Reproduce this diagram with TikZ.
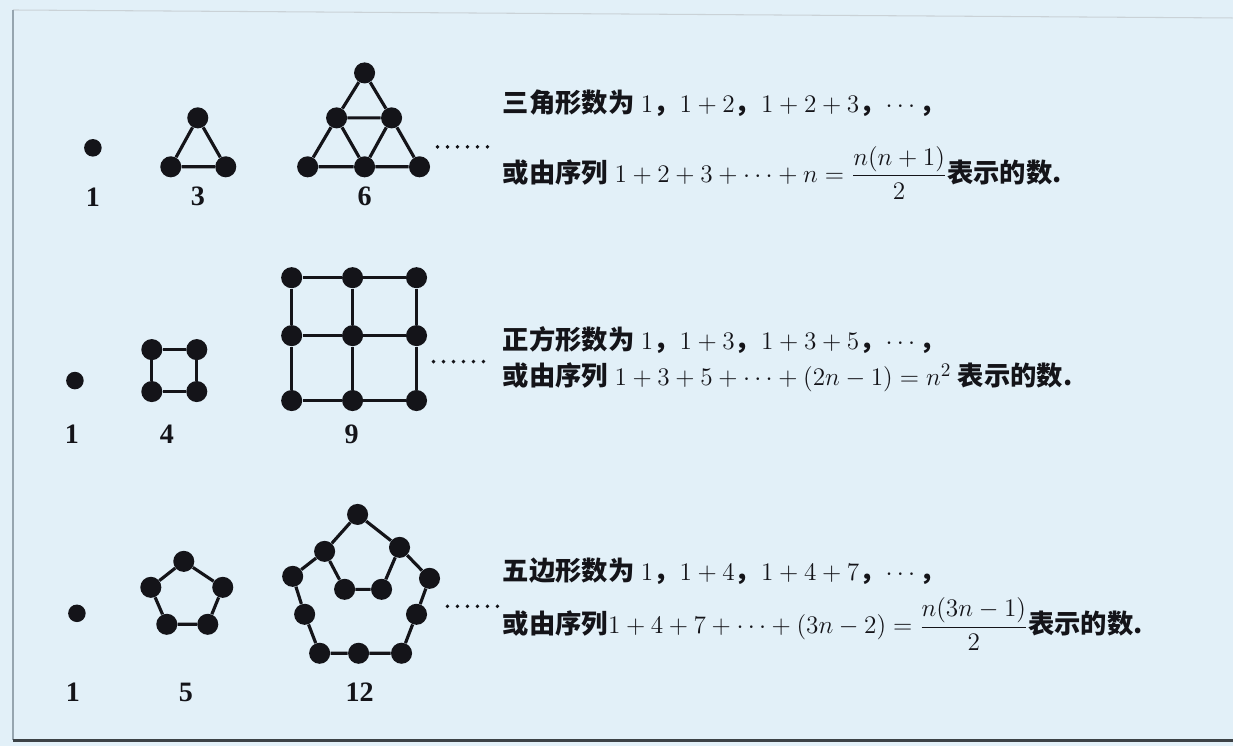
\documentclass[tikz,border=0pt]{standalone}
\usepackage{amsmath}
\usepackage{fontspec}
\setmainfont{Liberation Serif}
\newfontfamily\cjk{Noto Sans CJK SC}
\usetikzlibrary{positioning}
\definecolor{PaperBlue}{RGB}{226,240,248}
\definecolor{FrameGray}{RGB}{150,165,175}
\definecolor{InkBlack}{RGB}{20,20,25}
\newcommand{\zh}[1]{{\cjk\bfseries #1}}
\tikzset{
  dot/.style={circle,fill=InkBlack,inner sep=0pt,minimum size=12pt},
  smalldot/.style={dot,minimum size=10pt},
  edge/.style={line width=1.8pt,InkBlack},
  numlabel/.style={font=\fontsize{16}{18}\selectfont\bfseries,text=InkBlack},
  say/.style={anchor=west,inner sep=0pt,text=InkBlack,
    font=\fontsize{15}{18}\selectfont}
}

\begin{document}
\begin{tikzpicture}[x=0.02cm,y=-0.02cm]
  \fill[PaperBlue] (0,0) rectangle (1234,747);
  \draw[FrameGray!50,line width=0.6pt] (13,10) -- (1234,18);
  \draw[FrameGray,line width=1pt] (13,10) -- (13,741);
  \draw[FrameGray!40!black,line width=1.6pt] (13,741) -- (1234,741);
  % triangular numbers
  \node[smalldot] (t1) at (93,148) {};
  \foreach \n/\x/\y in {a/198/118,b/171/167,c/226/167}
    \node[dot] (t3\n) at (\x,\y) {};
  \draw[edge] (t3a) -- (t3b) -- (t3c) -- (t3a);
  \foreach \n/\x/\y in {a/365/73,b/337/118,c/392/118,d/308/167,e/365/167,f/420/167}
    \node[dot] (t6\n) at (\x,\y) {};
  \draw[edge] (t6a) -- (t6b) -- (t6d) -- (t6e) -- (t6f) -- (t6c) -- (t6a);
  \draw[edge] (t6b) -- (t6c) -- (t6e) -- (t6b);
  \node[numlabel] (lt1) at (93,197) {1};
  \node[numlabel] (lt3) at (198,197) {3};
  \node[numlabel] (lt6) at (365,197) {6};
  % square numbers
  \node[smalldot] (s1) at (75,381) {};
  \foreach \n/\x/\y in {a/152/350,b/197/350,c/197/392,d/152/392}
    \node[dot] (s4\n) at (\x,\y) {};
  \draw[edge] (s4a) -- (s4b) -- (s4c) -- (s4d) -- (s4a);
  \foreach \c/\x in {1/292,2/353,3/417}
    \foreach \r/\y in {1/278,2/336,3/401}
      \node[dot] (s9-\c\r) at (\x,\y) {};
  \foreach \k in {1,2,3}{
    \draw[edge] (s9-1\k) -- (s9-2\k) -- (s9-3\k);
    \draw[edge] (s9-\k1) -- (s9-\k2) -- (s9-\k3);}
  \node[numlabel] (ls1) at (72,435) {1};
  \node[numlabel] (ls4) at (167,435) {4};
  \node[numlabel] (ls9) at (352,435) {9};
  % pentagonal numbers
  \node[smalldot] (p1) at (77,614) {};
  \foreach \n/\x/\y in {a/184/562,b/223/588,c/208/625,d/167/625,e/151/588}
    \node[dot] (p5\n) at (\x,\y) {};
  \draw[edge] (p5a) -- (p5b) -- (p5c) -- (p5d) -- (p5e) -- (p5a);
  \foreach \n/\x/\y in {a/358/515,b/400/548,c/430/579,d/417/615,e/402/654,
      f/359/654,g/320/654,h/305/615,i/293/577,j/325/552,k/345/590,l/382/590}
    \node[dot] (p12\n) at (\x,\y) {};
  \draw[edge] (p12a) -- (p12b) -- (p12c) -- (p12d) -- (p12e) -- (p12f)
    -- (p12g) -- (p12h) -- (p12i) -- (p12j) -- (p12a);
  \draw[edge] (p12j) -- (p12k) -- (p12l) -- (p12b);
  \node[numlabel] (lp1) at (73,693) {1};
  \node[numlabel] (lp5) at (186,693) {5};
  \node[numlabel] (lp12) at (360,693) {12};
  % and so on
  \foreach \x/\y in {438/147,434/362,448/607}
    \foreach \i in {0,...,5}
      \fill[InkBlack] (\x+\i*10,\y) circle (1.1pt);
  % the texts
  \node[say] (tri1) at (503,103)
    {\zh{三角形数为} $1$\zh{，}$1+2$\zh{，}$1+2+3$\zh{，}$\cdots$\zh{，}};
  \node[say] (tri2) at (503,173)
    {\zh{或由序列} $1+2+3+\cdots+n=\dfrac{n(n+1)}{2}$\zh{表示的数.}};
  \node[say] (sq1) at (503,340)
    {\zh{正方形数为} $1$\zh{，}$1+3$\zh{，}$1+3+5$\zh{，}$\cdots$\zh{，}};
  \node[say] (sq2) at (503,378)
    {\zh{或由序列} $1+3+5+\cdots+(2n-1)=n^{2}$ \zh{表示的数.}};
  \node[say] (pe1) at (503,572)
    {\zh{五边形数为} $1$\zh{，}$1+4$\zh{，}$1+4+7$\zh{，}$\cdots$\zh{，}};
  \node[say] (pe2) at (503,625)
    {\zh{或由序列}$1+4+7+\cdots+(3n-2)=\dfrac{n(3n-1)}{2}$\zh{表示的数.}};
\end{tikzpicture}
\end{document}
